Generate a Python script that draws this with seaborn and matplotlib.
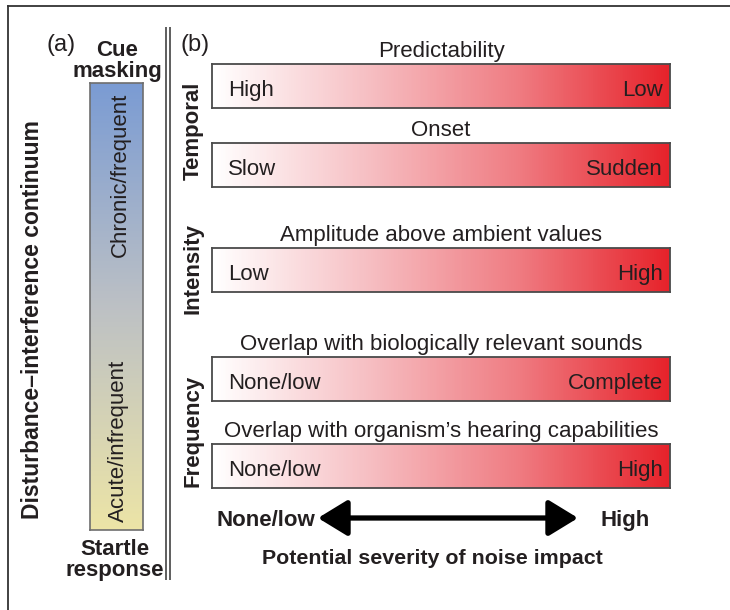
import numpy as np
import matplotlib
matplotlib.use('Agg')
import matplotlib.pyplot as plt
from matplotlib.colors import LinearSegmentedColormap
import seaborn as sns

# 데이터 (텍스트 라벨)
a_ends = ['Cue\nmasking', 'Startle\nresponse']
a_axis_label = 'Disturbance–interference continuum'
a_bar_labels = ['Chronic/frequent', 'Acute/infrequent']
groups = ['Temporal', 'Intensity', 'Frequency']
bar_titles = ['Predictability', 'Onset', 'Amplitude above ambient values',
              'Overlap with biologically relevant sounds',
              'Overlap with organism’s hearing capabilities']
left_labels = ['High', 'Slow', 'Low', 'None/low', 'None/low']
right_labels = ['Low', 'Sudden', 'High', 'Complete', 'High']
severity_ends = ['None/low', 'High']
severity_label = 'Potential severity of noise impact'

sns.set_style('white')
plt.rcParams['font.family'] = ['Liberation Sans', 'DejaVu Sans']
FS = 16
TXT = '#231f20'

W, H = 730, 610
fig = plt.figure(figsize=(W / 100, H / 100), dpi=100)


def px_rect(x0, y0, x1, y1):
    return [x0 / W, 1 - y1 / H, (x1 - x0) / W, (y1 - y0) / H]


def outline(ax, color, lw):
    for s in ax.spines.values():
        s.set_visible(True)
        s.set_color(color)
        s.set_linewidth(lw)


# 레이아웃 (픽셀 단위)
bar_x0, bar_x1, bar_h = 212, 670, 44
bar_tops = [64, 143, 248, 357, 444]
group_y = [131, 268, 431]

red_cmap = LinearSegmentedColormap.from_list('sev', ['#ffffff', '#f6c0c4', '#ef7c82', '#e6222a'])
ramp = np.linspace(0, 1, 256)[None, :]

# (a) 세로 그라데이션 막대
cont_cmap = LinearSegmentedColormap.from_list('cont', ['#7a9bd3', '#bcc0c4', '#ece4a6'])
vax = fig.add_axes(px_rect(90, 83, 143, 530))
sns.heatmap(ramp.T, cmap=cont_cmap, cbar=False, xticklabels=False, yticklabels=False, ax=vax)
outline(vax, '#6e6e6e', 1.2)

# (b) 가로 그라데이션 막대
for top in bar_tops:
    bax = fig.add_axes(px_rect(bar_x0, top, bar_x1, top + bar_h))
    sns.heatmap(ramp, cmap=red_cmap, cbar=False, xticklabels=False, yticklabels=False, ax=bax)
    outline(bax, '#4a4a4a', 1.3)

# 테두리 (위, 왼쪽)
frame = fig.add_axes(px_rect(8, 6, W + 5, H + 5))
frame.set_xticks([])
frame.set_yticks([])
frame.set_facecolor('none')
for side, s in frame.spines.items():
    s.set_visible(side in ('top', 'left'))
    s.set_color('#333333')
    s.set_linewidth(1.3)

# 텍스트 오버레이
ov = fig.add_axes([0, 0, 1, 1])
ov.set_xlim(0, W)
ov.set_ylim(H, 0)
ov.axis('off')
ov.patch.set_alpha(0)

# 이중 구분선
ov.vlines([166, 170], 27, 580, color='#333333', lw=1.1)

ov.text(47, 45, '(a)', fontsize=17, color=TXT, ha='left', va='center')
ov.text(180, 45, '(b)', fontsize=17, color=TXT, ha='left', va='center')
ov.text(117, 61, a_ends[0], fontsize=FS, fontweight='bold', color=TXT,
        ha='center', va='center', linespacing=0.95)
ov.text(115, 560, a_ends[1], fontsize=FS, fontweight='bold', color=TXT,
        ha='center', va='center', linespacing=0.95)
ov.text(33, 320, a_axis_label, fontsize=16.5, fontweight='bold', color=TXT,
        rotation=90, ha='center', va='center')
ov.text(120, 175, a_bar_labels[0], fontsize=FS, color=TXT, rotation=90, ha='center', va='center')
ov.text(118, 441, a_bar_labels[1], fontsize=FS, color=TXT, rotation=90, ha='center', va='center')

for name, gy in zip(groups, group_y):
    ov.text(193, gy, name, fontsize=FS, fontweight='bold', color=TXT,
            rotation=90, ha='center', va='center')

mid = (bar_x0 + bar_x1) / 2
for top, title, lo, hi in zip(bar_tops, bar_titles, left_labels, right_labels):
    ov.text(mid, top - 7, title, fontsize=FS, color=TXT, ha='center', va='baseline')
    ov.text(bar_x0 + 16, top + 32, lo, fontsize=FS, color=TXT, ha='left', va='baseline')
    ov.text(bar_x1 - 7, top + 32, hi, fontsize=FS, color=TXT, ha='right', va='baseline')

# 심각도 화살표
ov.annotate('', xy=(578, 518), xytext=(318, 518),
            arrowprops=dict(arrowstyle='<|-|>,head_length=0.9,head_width=0.55',
                            lw=3.8, color='black', mutation_scale=20,
                            shrinkA=0, shrinkB=0))
ov.text(315, 526, severity_ends[0], fontsize=FS, fontweight='bold', color=TXT, ha='right', va='baseline')
ov.text(600, 526, severity_ends[1], fontsize=FS, fontweight='bold', color=TXT, ha='left', va='baseline')
ov.text(432, 564, severity_label, fontsize=15.4, fontweight='bold', color=TXT, ha='center', va='baseline')

fig.savefig('out.png', dpi=100)
